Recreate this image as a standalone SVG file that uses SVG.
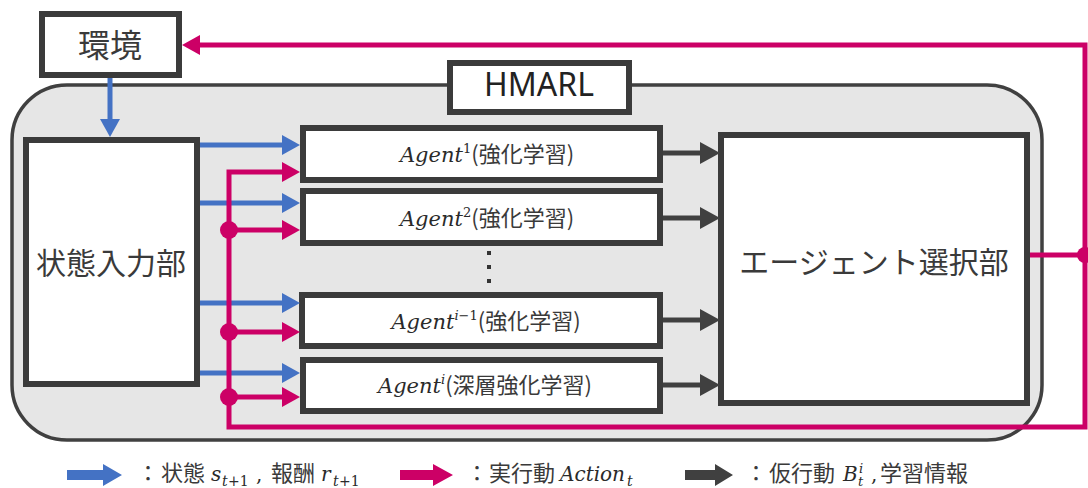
<svg xmlns="http://www.w3.org/2000/svg" width="1088" height="488" viewBox="0 0 1088 488">
<style>
.box{fill:#ffffff;stroke:#3b3b3b;stroke-width:6}
.cont{fill:#e6e6e6;stroke:#404040;stroke-width:3.5}
.jp{font-family:"Noto Sans CJK JP","Noto Sans",sans-serif;fill:#3a3a3a}
.lat{font-family:"Noto Sans","Open Sans",sans-serif;fill:#222}
.m{font-family:"DejaVu Serif","Liberation Serif",serif;font-style:italic;fill:#2a2a2a}
.mr{font-family:"DejaVu Serif","Liberation Serif",serif;fill:#2a2a2a}
.blue{fill:none;stroke:#4472c4;stroke-width:5}
.mag{fill:none;stroke:#cc0066;stroke-width:5}
.gry{fill:none;stroke:#404040;stroke-width:5}
.dot{fill:#cc0066}
</style>
<defs>
<marker id="ab" markerUnits="userSpaceOnUse" markerWidth="18" markerHeight="20" refX="8" refY="10" orient="auto"><path d="M0,0 L18,10 L0,20 z" fill="#4472c4"/></marker>
<marker id="am" markerUnits="userSpaceOnUse" markerWidth="18" markerHeight="20" refX="8" refY="10" orient="auto"><path d="M0,0 L18,10 L0,20 z" fill="#cc0066"/></marker>
<marker id="ag" markerUnits="userSpaceOnUse" markerWidth="20" markerHeight="22" refX="10" refY="11" orient="auto"><path d="M0,0 L20,11 L0,22 z" fill="#404040"/></marker>
</defs>
<rect width="1088" height="488" fill="#ffffff"/>
<g id="hmarl">
<rect class="cont" x="12" y="85" width="1030" height="355" rx="55"/>
<rect class="box" x="450" y="63" width="179" height="49"/>
<text class="lat" x="539" y="96" font-size="32" text-anchor="middle">HMARL</text>
</g>
<g id="env">
<rect class="box" x="42" y="14" width="137" height="61"/>
<text class="jp" x="110" y="57" font-size="32" text-anchor="middle">環境</text>
</g>
<g id="state-input">
<rect class="box" x="26" y="140" width="171" height="244"/>
<text class="jp" x="111" y="274" font-size="30" text-anchor="middle">状態入力部</text>
</g>
<g id="agent1">
<rect class="box" x="303" y="128" width="357" height="52"/>
<text x="487" y="162" text-anchor="middle"><tspan class="m" font-size="21">Agent</tspan><tspan class="mr" font-size="13" dy="-9">1</tspan><tspan class="jp" font-size="22" dy="9">(強化学習)</tspan></text>
</g>
<g id="agent2">
<rect class="box" x="303" y="191" width="357" height="52"/>
<text x="487" y="226" text-anchor="middle"><tspan class="m" font-size="21">Agent</tspan><tspan class="mr" font-size="13" dy="-9">2</tspan><tspan class="jp" font-size="22" dy="9">(強化学習)</tspan></text>
</g>
<g id="dots">
<rect x="487" y="251" width="4" height="4" fill="#333"/>
<rect x="487" y="265" width="4" height="4" fill="#333"/>
<rect x="487" y="279" width="4" height="4" fill="#333"/>
</g>
<g id="agent-i-1">
<rect class="box" x="302" y="295" width="358" height="51"/>
<text x="486" y="329" text-anchor="middle"><tspan class="m" font-size="21">Agent</tspan><tspan class="m" font-size="13" dy="-9">i</tspan><tspan class="mr" font-size="13">−1</tspan><tspan class="jp" font-size="22" dy="9">(強化学習)</tspan></text>
</g>
<g id="agent-i">
<rect class="box" x="303" y="360" width="357" height="51"/>
<text x="485" y="393" text-anchor="middle"><tspan class="m" font-size="21">Agent</tspan><tspan class="m" font-size="13" dy="-9">i</tspan><tspan class="jp" font-size="22" dy="9">(深層強化学習)</tspan></text>
</g>
<g id="selector">
<rect class="box" x="721" y="135" width="306" height="268"/>
<text class="jp" x="874" y="273" font-size="30" text-anchor="middle">エージェント選択部</text>
</g>
<g id="connectors">
<path class="blue" d="M110,78 V127" marker-end="url(#ab)"/>
<path class="blue" d="M200,145 H290" marker-end="url(#ab)"/>
<path class="blue" d="M200,203 H290" marker-end="url(#ab)"/>
<path class="blue" d="M200,303 H290" marker-end="url(#ab)"/>
<path class="blue" d="M200,373 H290" marker-end="url(#ab)"/>
<path class="gry" d="M663,153 H710" marker-end="url(#ag)"/>
<path class="gry" d="M663,218 H710" marker-end="url(#ag)"/>
<path class="gry" d="M663,320 H710" marker-end="url(#ag)"/>
<path class="gry" d="M663,385 H710" marker-end="url(#ag)"/>
<path class="mag" d="M1030,255 H1085"/>
<path class="mag" d="M1085,255 V45 H192" marker-end="url(#am)"/>
<path class="mag" d="M1085,255 V427 H229 V172 H290" marker-end="url(#am)"/>
<path class="mag" d="M229,230 H290" marker-end="url(#am)"/>
<path class="mag" d="M229,332 H290" marker-end="url(#am)"/>
<path class="mag" d="M229,397 H290" marker-end="url(#am)"/>
<circle class="dot" cx="229" cy="230" r="9"/>
<circle class="dot" cx="229" cy="332" r="9"/>
<circle class="dot" cx="229" cy="397" r="9"/>
<circle class="dot" cx="1085" cy="255" r="8"/>
</g>
<g id="legend">
<polygon points="67,470 103,470 103,464 122,475 103,486 103,480 67,480" fill="#4472c4"/>
<polygon points="400,470 433,470 433,464 453,475 433,486 433,480 400,480" fill="#cc0066"/>
<polygon points="685,470 715,470 715,464 733,475 715,486 715,480 685,480" fill="#404040"/>
<text font-size="22"><tspan class="jp" x="137" y="481">：</tspan><tspan class="jp" x="161" y="481">状態</tspan><tspan class="m" font-size="20" x="211" y="481">s</tspan><tspan class="m" font-size="14" x="222" y="486">t</tspan><tspan class="mr" font-size="14" x="228" y="486">+1</tspan><tspan class="mr" font-size="20" x="256" y="481">,</tspan><tspan class="jp" x="271" y="481">報酬</tspan><tspan class="m" font-size="20" x="321" y="481">r</tspan><tspan class="m" font-size="14" x="333" y="486">t</tspan><tspan class="mr" font-size="14" x="339" y="486">+1</tspan></text>
<text font-size="22"><tspan class="jp" x="466" y="481">：</tspan><tspan class="jp" x="489" y="481">実行動</tspan><tspan class="m" font-size="20" x="560" y="481">Action</tspan><tspan class="m" font-size="14" x="627" y="486">t</tspan></text>
<text font-size="22"><tspan class="jp" x="745" y="481">：</tspan><tspan class="jp" x="769" y="481">仮行動</tspan><tspan class="m" font-size="20" x="843" y="481">B</tspan><tspan class="m" font-size="13" x="859" y="473">i</tspan><tspan class="m" font-size="13" x="858" y="486">t</tspan><tspan class="mr" font-size="20" x="871" y="481">,</tspan><tspan class="jp" x="880" y="481">学習情報</tspan></text>
</g>
</svg>
